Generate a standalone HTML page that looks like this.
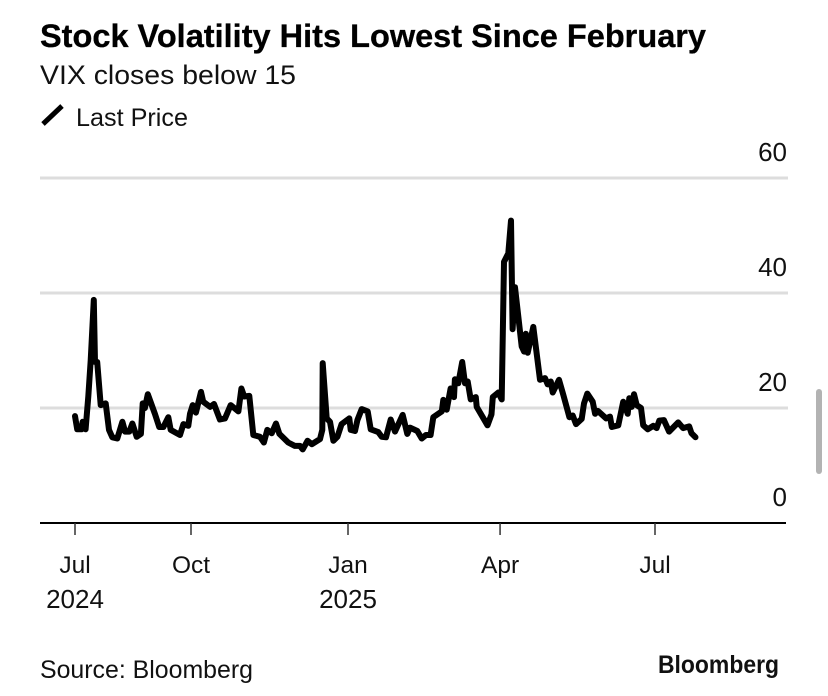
<!DOCTYPE html>
<html lang="en">
<head>
<meta charset="utf-8">
<title>Stock Volatility Hits Lowest Since February</title>
<style>
html,body{margin:0;padding:0;background:#fff;width:828px;height:696px;overflow:hidden}
svg{display:block;font-family:"Liberation Sans",Arial,sans-serif}
</style>
</head>
<body>
<svg id="chart" width="828" height="696" viewBox="0 0 828 696" xmlns="http://www.w3.org/2000/svg">
  <rect width="828" height="696" fill="#fff"/>
  <text x="40" y="47" font-size="32" font-weight="700" fill="#000" stroke="#000" stroke-width="0.3" textLength="666" lengthAdjust="spacingAndGlyphs">Stock Volatility Hits Lowest Since February</text>
  <text x="40" y="84" font-size="27" fill="#111" textLength="256" lengthAdjust="spacingAndGlyphs">VIX closes below 15</text>
  <line x1="43" y1="124" x2="62" y2="106" stroke="#000" stroke-width="5"/>
  <text x="76" y="126" font-size="25" fill="#111" textLength="112" lengthAdjust="spacingAndGlyphs">Last Price</text>
  <g id="grid"></g>
  <g id="ylabels"></g>
  <line x1="40" y1="523" x2="786" y2="523" stroke="#000" stroke-width="2"/>
  <g id="xticks"></g>
  <path id="series" fill="none" stroke="#000" stroke-width="6" stroke-linejoin="round" stroke-linecap="round"/>
  <text x="40" y="678" font-size="25" fill="#111" textLength="213" lengthAdjust="spacingAndGlyphs">Source: Bloomberg</text>
  <text x="658" y="673" font-size="25" font-weight="700" fill="#111" textLength="121" lengthAdjust="spacingAndGlyphs">Bloomberg</text>
  <rect x="816" y="389" width="6" height="85" rx="3" fill="#b3b3b3"/>
</svg>
<script>
const days = [0,1.4,4.2,4.8,6.7,8.4,9.9,11.8,12.6,14,16.2,19.3,21.4,23.5,26.6,29.8,31.5,34.2,36.1,38.8,41.5,42.6,44,45.8,50.3,53,55.6,58.7,60.2,66.1,68.2,71.3,72.4,74.1,76.1,79.3,80.7,85,87.5,91.2,94.4,98,102.8,104.7,106.5,109.7,112.2,116.4,118.9,121,123.8,126.5,128.6,134.2,138.4,141.6,143.3,146.3,149.1,154.2,155.6,155.9,158.4,160.5,162.6,165.1,167.8,172.6,173.5,176.2,177.7,180.4,184.2,186.1,190.9,193,195.7,198.7,201.4,206.2,209.1,210.8,215.4,218.2,220.9,223.8,225.5,230.8,231.8,233.9,236.4,238.5,239.1,241.2,243.7,245.4,247.1,249,252.2,252.8,259.6,262.1,262.9,266.4,268.5,270,272.7,274.4,275.4,276.9,281.1,282.6,283.7,284.9,288.4,292.6,295.8,297.5,299.4,300.6,304.6,307.3,311.1,313.2,315.3,318.9,320.3,322.4,325.8,327.3,329,334.2,336.7,337.8,341.9,345,347.8,348.8,350.3,351.8,353.5,356.2,357.6,360.4,363.9,366,367.7,370.6,373.9,379.6,382.7,386.5,388,390.5];
const vix = [18.6,16.3,16.3,17.6,16.3,22,28.3,38.8,28,28,20.5,20.8,16.2,14.9,14.7,17.6,15.9,15.9,17.3,15,15.5,20.8,20,22.4,19,16.7,16.7,18.4,16.2,15.3,17.2,16.9,19,20.5,19.2,22.8,21.1,20.2,20.7,18,18.2,20.5,19.4,23.4,22,22.1,15.3,15,14,16.2,15.6,17.3,15.5,14,13.4,13.4,12.8,14.3,13.7,14.6,16.2,27.8,18.2,17.6,14.3,15,17.2,18.2,16.2,16,17.9,19.8,19.4,16.3,15.8,15,14.9,18,15.9,18.8,15.5,16.6,16,14.7,15.3,15.3,18.4,19.4,21.4,19.7,23.4,21.9,25,24.3,28,24.3,24.6,21.5,21.9,20.2,17,18.9,21.9,22.7,21.5,45.4,46.9,52.6,33.7,41,30.7,29.8,32.9,29.6,34.1,24.9,25.2,24.1,24.6,22.7,24.9,22.3,18.4,18.7,17.2,18.1,20.8,22.5,21.1,19,19.5,18.2,18.5,16.7,17,21.1,19,21.7,20.2,22.4,20.5,20,17,16.3,16.9,16.5,17.8,17.9,15.9,17.5,16.5,16.8,15.6,14.9];
const yTickValues = [0,20,40,60];
const gridValues = [20,40,60];
const xTickDays = [0,73,171.8,267.5,365];
const xTickMonths = ["Jul","Oct","Jan","Apr","Jul"];
const xTickYears = ["2024","","2025","",""];

const NS = "http://www.w3.org/2000/svg";
function xScale(d){ return 75 + d * 580 / 365; }
function yScale(v){ return 523 - v * 5.75; }

const grid = document.getElementById("grid");
gridValues.forEach(function(v){
  const l = document.createElementNS(NS,"line");
  
  
  l.setAttribute("x1",40); l.setAttribute("x2",788);
  l.setAttribute("y1",yScale(v)); l.setAttribute("y2",yScale(v));
  l.setAttribute("stroke","#dddddd"); l.setAttribute("stroke-width",3);
  grid.appendChild(l);
});

const yl = document.getElementById("ylabels");
yTickValues.forEach(function(v){
  const t = document.createElementNS(NS,"text");
  
  
  t.setAttribute("x",787); t.setAttribute("y",yScale(v)-17);
  t.setAttribute("text-anchor","end"); t.setAttribute("font-size",26); t.setAttribute("fill","#111");
  t.textContent = v;
  yl.appendChild(t);
});

const xt = document.getElementById("xticks");
xTickDays.forEach(function(d,i){
  const x = xScale(d);
  const l = document.createElementNS(NS,"line");
  
  
  l.setAttribute("x1",x); l.setAttribute("x2",x);
  l.setAttribute("y1",523); l.setAttribute("y2",535);
  l.setAttribute("stroke","#333"); l.setAttribute("stroke-width",1.5);
  xt.appendChild(l);
  const t = document.createElementNS(NS,"text");
  
  
  t.setAttribute("x",x); t.setAttribute("y",573);
  t.setAttribute("text-anchor","middle"); t.setAttribute("font-size",24.5); t.setAttribute("fill","#111");
  t.textContent = xTickMonths[i];
  xt.appendChild(t);
  if(xTickYears[i]){
    const y = document.createElementNS(NS,"text");
    
    
    y.setAttribute("x",x); y.setAttribute("y",608);
    y.setAttribute("text-anchor","middle"); y.setAttribute("font-size",26); y.setAttribute("fill","#111");
    y.textContent = xTickYears[i];
    xt.appendChild(y);
  }
});

document.getElementById("series").setAttribute("d", days.map(function(d,i){
  return (i?"L":"M") + xScale(d).toFixed(1) + " " + yScale(vix[i]).toFixed(1);
}).join(""));
</script>
</body>
</html>
